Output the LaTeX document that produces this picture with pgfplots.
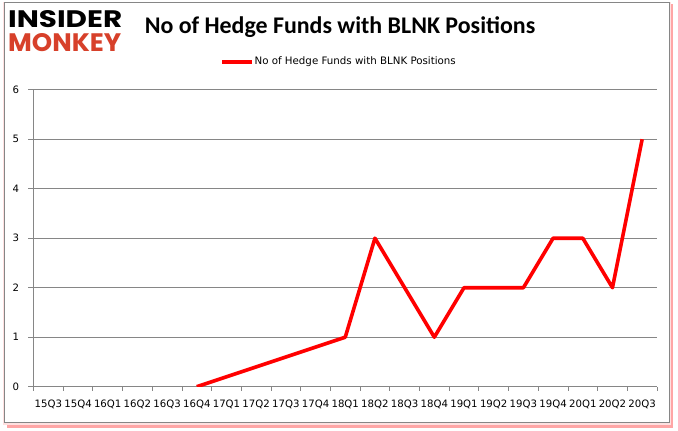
\documentclass[border=0pt]{standalone}
\usepackage{pgfplots}
\pgfplotsset{compat=1.18}
\usepackage{graphicx}
\usepackage{fontspec}
\setmainfont{DejaVu Sans}
\newfontfamily\titlefont{Carlito}
\newfontfamily\logofont{Poppins}
\definecolor{gridgray}{HTML}{868686}
\definecolor{monkeyred}{HTML}{D7402A}
\begin{document}
\begin{tikzpicture}
  % page and chart frame (y measured upwards from the bottom of the 678x431 image)
  \fill[white] (0bp,0bp) rectangle (678bp,431bp);
  \fill[red!35] (7bp,3bp) rectangle (673bp,427bp);
  \fill[red!12] (3bp,6bp) rectangle (671bp,429bp);
  \filldraw[fill=white, draw=gridgray, line width=0.8bp] (4bp,9bp) rectangle (669bp,429bp);
  % logo
  \node[anchor=south west, inner sep=0pt] at (8bp,403bp)
    {\resizebox{114bp}{17bp}{\logofont\bfseries INSIDER}};
  \node[anchor=south west, inner sep=0pt, text=monkeyred] at (8bp,379bp)
    {\resizebox{113bp}{18bp}{\logofont\bfseries MONKEY}};
  % title
  \node[anchor=center, inner sep=0pt] at (340bp,404bp)
    {\titlefont\bfseries\fontsize{24}{28}\selectfont No of Hedge Funds with BLNK Positions};
  \begin{axis}[
      at={(33.5bp,44.3bp)}, anchor=south west,
      scale only axis,
      width=623.5bp, height=297bp,
      xmin=-0.5, xmax=20.5, ymin=0, ymax=6,
      axis x line*=bottom, axis y line*=left,
      axis line style={draw=gridgray, line width=0.8bp},
      tick align=outside,
      xtick={0,...,20},
      xticklabels={15Q3,15Q4,16Q1,16Q2,16Q3,16Q4,17Q1,17Q2,17Q3,17Q4,
                   18Q1,18Q2,18Q3,18Q4,19Q1,19Q2,19Q3,19Q4,20Q1,20Q2,20Q3},
      x tick style={draw=none},
      minor xtick={-0.5,0.5,...,20.5},
      minor x tick style={draw=gridgray, line width=0.8bp},
      minor tick length=4bp,
      ytick={0,...,6},
      y tick style={draw=gridgray, line width=0.8bp},
      major tick length=5bp,
      ymajorgrids,
      major grid style={draw=gridgray, line width=0.8bp},
      /pgf/number format/assume math mode=true,
      tick label style={font=\fontsize{10.2}{12}\selectfont, text=black},
      xticklabel style={yshift=-5bp, inner xsep=0pt},
      yticklabel style={xshift=-6bp},
      legend style={at={(0.489,1.094)}, anchor=center, draw=none, fill=none,
                    font=\fontsize{10.3}{12}\selectfont, inner sep=0pt,
                    nodes={inner sep=0.5bp}},
      legend image code/.code={\draw[#1, line width=3.6bp] (0bp,0bp) -- (30bp,0bp);},
      legend cell align=left,
    ]
    % BLNK holders per quarter (quarters with no data are left out)
    \addplot[color=red, line width=3.6bp, line join=round] coordinates {
      (5,0)
      (10,1)
      (11,3)
      (12,2)
      (13,1)
      (14,2)
      (15,2)
      (16,2)
      (17,3)
      (18,3)
      (19,2)
      (20,5)
    };
    \legend{No of Hedge Funds with BLNK Positions}
  \end{axis}
\end{tikzpicture}
\end{document}
